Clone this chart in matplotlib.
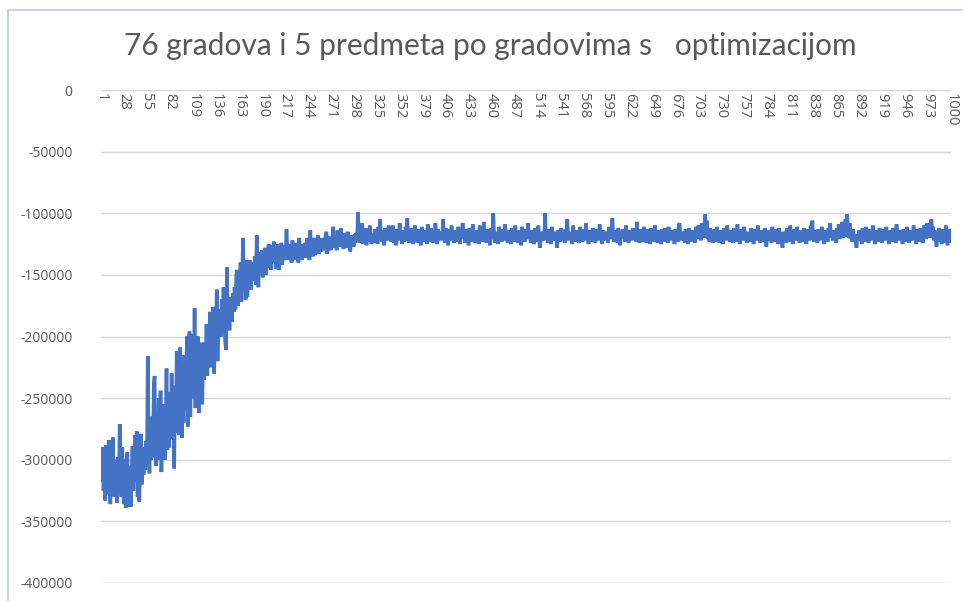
import numpy as np
import matplotlib.pyplot as plt
from matplotlib.lines import Line2D

# ==================
# data (values in thousands)
# ==================
title = "76 gradova i 5 predmeta po gradovima s   optimizacijom"

score_k = [
    -310, -318, -290, -325, -300, -333, -288, -315, -328, -284, -305, -336, -295, -320, -282, -330, -300, -322, -310, -335,
    -298, -326, -271, -312, -330, -290, -318, -336, -300, -339, -310, -294, -338, -322, -305, -338, -315, -289, -325, -300,
    -280, -318, -277, -330, -296, -334, -305, -279, -320, -298, -312, -290, -308, -285, -302, -216, -295, -311, -275, -300,
    -265, -298, -240, -232, -290, -305, -262, -300, -250, -285, -244, -310, -270, -296, -255, -300, -280, -226, -292, -260,
    -290, -245, -275, -230, -283, -255, -307, -240, -278, -212, -265, -230, -280, -209, -258, -282, -225, -270, -215, -260,
    -248, -200, -273, -230, -196, -265, -215, -250, -198, -240, -177, -258, -210, -235, -200, -262, -220, -240, -205, -255,
    -215, -235, -205, -228, -190, -232, -200, -212, -180, -225, -195, -215, -176, -230, -188, -205, -162, -220, -185, -200,
    -178, -200, -170, -195, -160, -190, -205, -211, -144, -185, -170, -195, -175, -168, -188, -165, -180, -160, -178, -150,
    -146, -175, -155, -168, -140, -172, -150, -120, -160, -145, -170, -138, -168, -150, -158, -138, -162, -142, -155, -140,
    -150, -135, -158, -118, -145, -160, -132, -148, -140, -130, -152, -138, -146, -128, -150, -136, -144, -125, -142, -135,
    -146, -126, -140, -123, -138, -132, -145, -125, -140, -146, -128, -136, -124, -142, -130, -138, -126, -134, -113, -130,
    -138, -125, -136, -128, -140, -122, -134, -128, -138, -124, -132, -127, -140, -120, -133, -126, -138, -125, -130, -135,
    -124, -136, -120, -130, -125, -138, -114, -132, -122, -135, -128, -120, -134, -124, -130, -118, -133, -126, -122, -131,
    -120, -130, -124, -128, -118, -115, -133, -122, -127, -119, -130, -123, -126, -111, -128, -120, -124, -130, -114, -125,
    -118, -127, -112, -125, -121, -129, -116, -124, -120, -128, -115, -126, -122, -131, -118, -123, -119, -127, -117, -124,
    -116, -122, -99, -120, -124, -115, -118, -108, -125, -117, -121, -112, -126, -119, -114, -123, -110, -120, -125, -116,
    -119, -124, -113, -121, -116, -125, -111, -120, -105, -118, -123, -114, -120, -126, -112, -119, -117, -122, -110, -121,
    -116, -123, -118, -110, -124, -115, -120, -126, -113, -119, -122, -108, -121, -117, -125, -114, -118, -123, -111, -120,
    -104, -119, -124, -115, -121, -112, -118, -125, -116, -110, -122, -117, -124, -113, -120, -118, -126, -111, -119, -123,
    -114, -121, -117, -125, -109, -120, -116, -123, -112, -119, -124, -115, -121, -108, -118, -125, -113, -120, -117, -122,
    -115, -121, -105, -118, -124, -112, -120, -117, -126, -113, -119, -122, -110, -121, -116, -124, -114, -120, -118, -123,
    -111, -119, -125, -116, -121, -108, -120, -117, -124, -113, -122, -118, -126, -112, -119, -115, -123, -109, -121, -117,
    -124, -114, -120, -118, -125, -110, -122, -116, -119, -123, -107, -121, -117, -124, -113, -120, -118, -126, -112, -119,
    -121, -100, -118, -124, -115, -121, -117, -125, -111, -120, -116, -123, -113, -119, -122, -109, -121, -117, -124, -114,
    -120, -118, -125, -112, -121, -116, -123, -110, -119, -117, -124, -114, -122, -118, -126, -111, -120, -116, -123, -113,
    -119, -121, -108, -120, -117, -124, -114, -122, -116, -125, -112, -119, -118, -123, -110, -121, -128, -117, -120, -115,
    -122, -118, -100, -121, -116, -124, -113, -120, -117, -125, -111, -119, -122, -115, -121, -118, -128, -114, -120, -117,
    -123, -112, -119, -121, -116, -124, -113, -120, -105, -118, -122, -115, -121, -117, -125, -110, -119, -116, -123, -114,
    -120, -118, -124, -111, -121, -116, -123, -113, -119, -122, -108, -120, -117, -125, -114, -121, -118, -123, -112, -119,
    -116, -124, -113, -120, -118, -122, -109, -121, -117, -125, -114, -119, -122, -115, -120, -118, -124, -111, -120, -117,
    -121, -104, -119, -123, -114, -120, -117, -124, -112, -119, -126, -116, -121, -113, -120, -118, -123, -110, -119, -117,
    -124, -114, -120, -117, -122, -112, -119, -121, -115, -123, -107, -120, -118, -124, -113, -121, -116, -123, -111, -119,
    -117, -124, -113, -120, -118, -125, -112, -119, -121, -115, -123, -110, -120, -117, -124, -114, -121, -118, -125, -113,
    -119, -116, -123, -112, -120, -118, -124, -111, -119, -117, -122, -114, -121, -116, -125, -113, -120, -118, -123, -110,
    -108, -119, -122, -115, -121, -117, -124, -113, -120, -118, -125, -112, -119, -116, -123, -114, -121, -118, -124, -111,
    -118, -121, -110, -119, -115, -122, -108, -118, -113, -120, -101, -117, -106, -121, -114, -123, -112, -119, -117, -124,
    -113, -120, -117, -123, -111, -119, -116, -124, -114, -121, -118, -125, -112, -120, -117, -122, -110, -119, -116, -123,
    -114, -121, -118, -124, -112, -120, -116, -123, -109, -119, -117, -125, -113, -121, -118, -122, -111, -120, -116, -124,
    -115, -121, -118, -123, -112, -120, -117, -125, -113, -119, -116, -122, -110, -120, -118, -124, -114, -121, -117, -123,
    -112, -120, -127, -118, -122, -114, -121, -117, -124, -111, -119, -116, -123, -113, -120, -118, -125, -112, -119, -117,
    -122, -128, -115, -121, -117, -124, -112, -120, -118, -123, -110, -119, -116, -125, -113, -121, -117, -122, -111, -120,
    -117, -124, -114, -120, -118, -123, -112, -121, -116, -125, -113, -119, -117, -122, -110, -120, -106, -118, -123, -114,
    -121, -117, -124, -113, -120, -118, -122, -111, -119, -116, -125, -114, -121, -117, -123, -112, -120, -108, -119, -116,
    -122, -114, -120, -117, -124, -112, -119, -109, -121, -115, -118, -107, -120, -110, -117, -105, -119, -101, -114, -120,
    -108, -121, -116, -123, -113, -120, -118, -124, -128, -117, -121, -114, -122, -116, -125, -112, -120, -118, -123, -111,
    -119, -116, -124, -113, -121, -117, -122, -110, -120, -118, -125, -114, -121, -116, -123, -112, -120, -117, -124, -113,
    -120, -118, -122, -111, -119, -116, -125, -114, -121, -117, -123, -112, -120, -118, -124, -109, -121, -116, -122, -114,
    -120, -117, -125, -113, -119, -118, -123, -111, -121, -116, -124, -114, -120, -118, -122, -110, -119, -117, -125, -113,
    -121, -116, -123, -112, -120, -118, -124, -110, -119, -115, -121, -108, -118, -112, -120, -109, -105, -117, -111, -122,
    -114, -121, -127, -116, -123, -112, -120, -118, -125, -113, -121, -117, -124, -110, -122, -126, -115, -124, -113, -116,
]
score = np.array(score_k) * 1000
generation = np.arange(1, len(score) + 1)

x_ticks = list(range(1, 1001, 27))
y_ticks = [0, -50000, -100000, -150000, -200000, -250000, -300000, -350000, -400000]

# ==================
# plot
# ==================
text_grey = "#595959"
fig = plt.figure(figsize=(9.63, 6.01), dpi=100)
ax = fig.add_axes([101 / 963, 1 - 583 / 601, 850 / 963, 493 / 601])

ax.plot(generation, score, color="#4472C4", lw=2.6, solid_joinstyle="miter")

ax.set_xlim(1, 1000)
ax.set_ylim(-400000, 0)
ax.set_yticks(y_ticks)
ax.set_yticklabels([str(v) for v in y_ticks], fontsize=10, color=text_grey,
                   family="Open Sans")
ax.yaxis.grid(True, color="#d9d9d9", lw=1.0)
ax.set_axisbelow(True)

ax.set_xticks(x_ticks)
ax.tick_params(axis="x", top=False, bottom=False, labeltop=True,
               labelbottom=False, pad=-6)
ax.set_xticklabels([str(v) for v in x_ticks], rotation=270, va="top",
                   ha="center", fontsize=10.5, color=text_grey, family="Open Sans")
ax.tick_params(axis="y", left=False, pad=17)
for s in ax.spines.values():
    s.set_visible(False)

fig.text(490 / 963, 1 - 46 / 601, title, ha="center", va="center",
         fontsize=21.5, color=text_grey, family="Lato")

# the chart frame edge seen in the screenshot
fig.add_artist(Line2D([8 / 963, 8 / 963], [0, 1 - 10 / 601], color="#c9d3e6", lw=1.5))
fig.add_artist(Line2D([8 / 963, 1], [1 - 10 / 601, 1 - 10 / 601], color="#c9d3e6", lw=1.5))

fig.savefig("out.png", dpi=100)
